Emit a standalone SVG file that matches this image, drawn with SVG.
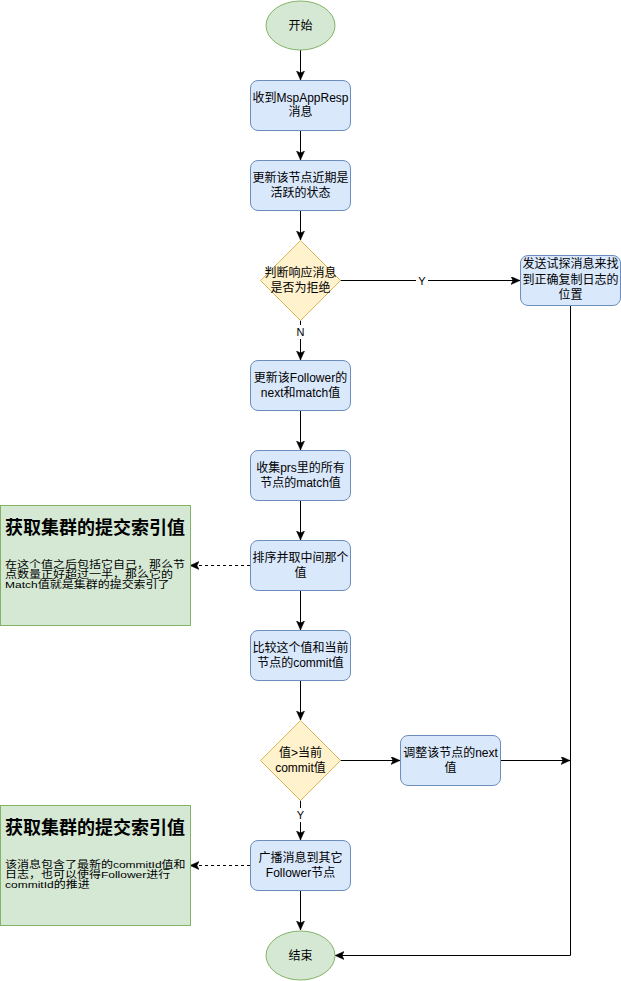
<svg xmlns="http://www.w3.org/2000/svg" width="621" height="981" viewBox="0 0 621 981">
<style>
  .t { font-family: "Liberation Sans", "Noto Sans CJK SC", sans-serif; font-size: 12px; fill: #000; text-anchor: middle; }
  .lbl { font-family: "Liberation Sans", "Noto Sans CJK SC", sans-serif; font-size: 11px; fill: #000; text-anchor: middle; }
  .nt { font-family: "Liberation Sans", "Noto Sans CJK SC", sans-serif; font-size: 12px; fill: #000; text-anchor: start; }
  .nh { font-family: "Liberation Sans", "Noto Sans CJK SC", sans-serif; font-size: 18px; font-weight: bold; fill: #000; text-anchor: start; }
  .term { fill: #d5e8d4; stroke: #82b366; stroke-width: 1; }
  .proc { fill: #dae8fc; stroke: #6c8ebf; stroke-width: 1; }
  .dec { fill: #fff2cc; stroke: #d6b656; stroke-width: 1; }
  .note { fill: #d5e8d4; stroke: #82b366; stroke-width: 1; }
  .edge { fill: none; stroke: #000; stroke-width: 1; }
  .dash { stroke-dasharray: 3 3; }
</style>
<defs>
  <marker id="arr" markerWidth="10" markerHeight="10" refX="9" refY="4" orient="auto" markerUnits="userSpaceOnUse">
    <path d="M0,0 L9,4 L0,8 L2,4 Z" fill="#000" stroke="#000" stroke-width="0.5"/>
  </marker>
</defs>
<rect x="0" y="0" width="621" height="981" fill="#fff"/>

<g id="edges">
  <line class="edge" x1="300.5" y1="50" x2="300.5" y2="80" marker-end="url(#arr)"/>
  <line class="edge" x1="300.5" y1="130" x2="300.5" y2="160" marker-end="url(#arr)"/>
  <line class="edge" x1="300.5" y1="210" x2="300.5" y2="240" marker-end="url(#arr)"/>
  <line class="edge" x1="340" y1="280.5" x2="520" y2="280.5" marker-end="url(#arr)"/>
  <line class="edge" x1="300.5" y1="320" x2="300.5" y2="360" marker-end="url(#arr)"/>
  <line class="edge" x1="300.5" y1="410" x2="300.5" y2="450" marker-end="url(#arr)"/>
  <line class="edge" x1="300.5" y1="500" x2="300.5" y2="540" marker-end="url(#arr)"/>
  <line class="edge" x1="300.5" y1="590" x2="300.5" y2="630" marker-end="url(#arr)"/>
  <line class="edge" x1="300.5" y1="680" x2="300.5" y2="720" marker-end="url(#arr)"/>
  <line class="edge" x1="340" y1="760.5" x2="400" y2="760.5" marker-end="url(#arr)"/>
  <line class="edge" x1="500" y1="760.5" x2="570" y2="760.5" marker-end="url(#arr)"/>
  <line class="edge" x1="300.5" y1="800" x2="300.5" y2="840" marker-end="url(#arr)"/>
  <line class="edge" x1="300.5" y1="890" x2="300.5" y2="930" marker-end="url(#arr)"/>
  <polyline class="edge" points="570.5,305 570.5,955.5 335,955.5" marker-end="url(#arr)"/>
  <line class="edge dash" x1="250" y1="565.5" x2="190" y2="565.5" marker-end="url(#arr)"/>
  <line class="edge dash" x1="250" y1="865.5" x2="190" y2="865.5" marker-end="url(#arr)"/>
  <rect x="416" y="273" width="12" height="14" fill="#fff"/>
  <text class="lbl" x="422" y="284.5">Y</text>
  <rect x="294" y="325" width="13" height="14" fill="#fff"/>
  <text class="lbl" x="300.5" y="336">N</text>
  <rect x="294" y="808" width="13" height="14" fill="#fff"/>
  <text class="lbl" x="300.5" y="819">Y</text>
</g>

<g id="start">
  <ellipse class="term" cx="300.5" cy="25.5" rx="34.5" ry="24.5"/>
  <text class="t" x="300.5" y="30">开始</text>
</g>
<g id="recv">
  <rect class="proc" x="250.5" y="80.5" width="100" height="50" rx="7.5"/>
  <text class="t" x="300.5" y="102">收到MspAppResp</text>
  <text class="t" x="300.5" y="116">消息</text>
</g>
<g id="update-active">
  <rect class="proc" x="250.5" y="160.5" width="100" height="50" rx="7.5"/>
  <text class="t" x="300.5" y="182">更新该节点近期是</text>
  <text class="t" x="300.5" y="197">活跃的状态</text>
</g>
<g id="reject">
  <polygon class="dec" points="300.5,240.5 340.5,280.5 300.5,320.5 260.5,280.5"/>
  <text class="t" x="300.5" y="277">判断响应消息</text>
  <text class="t" x="300.5" y="292">是否为拒绝</text>
</g>
<g id="probe">
  <rect class="proc" x="520.5" y="255.5" width="100" height="50" rx="7.5"/>
  <text class="t" x="570.5" y="268">发送试探消息来找</text>
  <text class="t" x="570.5" y="283.5">到正确复制日志的</text>
  <text class="t" x="570.5" y="299">位置</text>
</g>
<g id="update-follower">
  <rect class="proc" x="250.5" y="360.5" width="100" height="50" rx="7.5"/>
  <text class="t" x="300.5" y="382">更新该Follower的</text>
  <text class="t" x="300.5" y="397">next和match值</text>
</g>
<g id="collect">
  <rect class="proc" x="250.5" y="450.5" width="100" height="50" rx="7.5"/>
  <text class="t" x="300.5" y="472">收集prs里的所有</text>
  <text class="t" x="300.5" y="487">节点的match值</text>
</g>
<g id="sort">
  <rect class="proc" x="250.5" y="540.5" width="100" height="50" rx="7.5"/>
  <text class="t" x="300.5" y="562">排序并取中间那个</text>
  <text class="t" x="300.5" y="577">值</text>
</g>
<g id="compare">
  <rect class="proc" x="250.5" y="630.5" width="100" height="50" rx="7.5"/>
  <text class="t" x="300.5" y="652">比较这个值和当前</text>
  <text class="t" x="300.5" y="667">节点的commit值</text>
</g>
<g id="greater">
  <polygon class="dec" points="300.5,720.5 340.5,760.5 300.5,800.5 260.5,760.5"/>
  <text class="t" x="300.5" y="757">值&gt;当前</text>
  <text class="t" x="300.5" y="772">commit值</text>
</g>
<g id="adjust">
  <rect class="proc" x="400.5" y="735.5" width="100" height="50" rx="7.5"/>
  <text class="t" x="450.5" y="757">调整该节点的next</text>
  <text class="t" x="450.5" y="772">值</text>
</g>
<g id="broadcast">
  <rect class="proc" x="250.5" y="840.5" width="100" height="50" rx="7.5"/>
  <text class="t" x="300.5" y="862">广播消息到其它</text>
  <text class="t" x="300.5" y="877">Follower节点</text>
</g>
<g id="end">
  <ellipse class="term" cx="300.5" cy="955.5" rx="34.5" ry="24.5"/>
  <text class="t" x="300.5" y="960">结束</text>
</g>

<g id="note1">
  <rect class="note" x="0.5" y="505.5" width="190" height="120"/>
  <text class="nh" x="5" y="533.5">获取集群的提交索引值</text>
  <text class="nt" transform="translate(5,567.5) scale(1,0.82)">在这个值之后包括它自己，那么节</text>
  <text class="nt" transform="translate(5,577.5) scale(1,0.82)">点数量正好超过一半，那么它的</text>
  <text class="nt" transform="translate(5,587.5) scale(1,0.82)">Match值就是集群的提交索引了</text>
</g>
<g id="note2">
  <rect class="note" x="0.5" y="805.5" width="190" height="120"/>
  <text class="nh" x="5" y="833.5">获取集群的提交索引值</text>
  <text class="nt" transform="translate(5,867.5) scale(1,0.82)">该消息包含了最新的commitId值和</text>
  <text class="nt" transform="translate(5,877.5) scale(1,0.82)">日志，也可以使得Follower进行</text>
  <text class="nt" transform="translate(5,887.5) scale(1,0.82)">commitId的推进</text>
</g>
</svg>
